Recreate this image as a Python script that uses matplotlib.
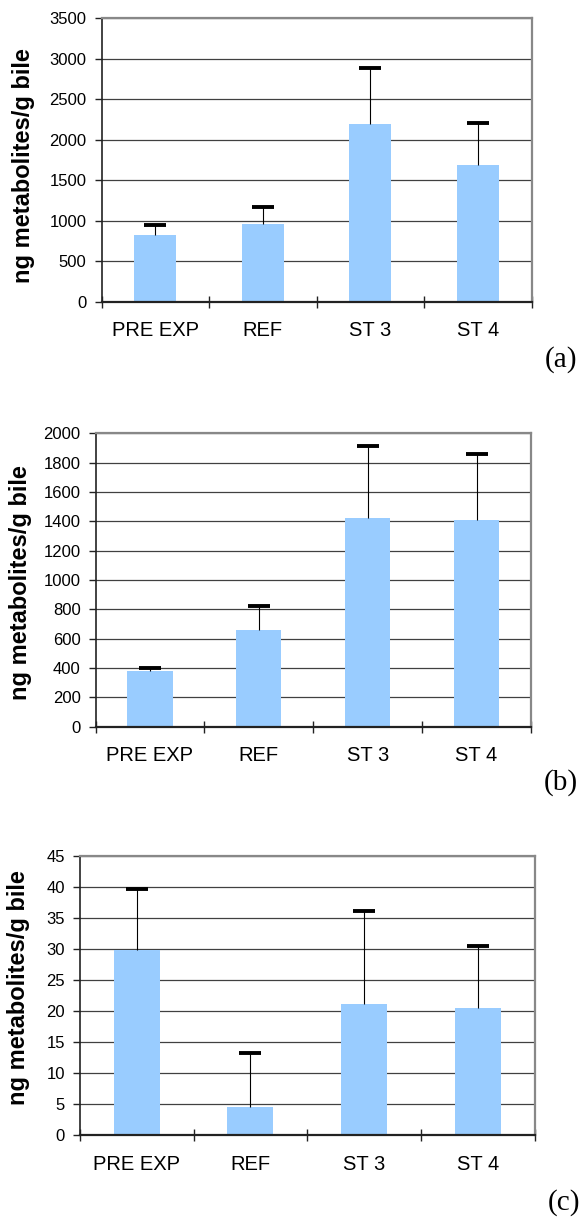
import matplotlib
matplotlib.use("Agg")
import matplotlib.pyplot as plt
import numpy as np

# groups shown on every panel
groups = ["PRE EXP", "REF", "ST 3", "ST 4"]

# panel (a)
means_a = [824, 959, 2195, 1688]
upper_a = [943, 1174, 2886, 2211]
ticks_a = np.arange(0, 3501, 500)

# panel (b)
means_b = [382, 659, 1423, 1409]
upper_b = [398, 820, 1911, 1857]
ticks_b = np.arange(0, 2001, 200)

# panel (c)
means_c = [29.8, 4.56, 21.1, 20.5]
upper_c = [39.7, 13.3, 36.15, 30.4]
ticks_c = np.arange(0, 46, 5)

ylabel = "ng metabolites/g bile"
panel_names = ["(a)", "(b)", "(c)"]

W, H = 582, 1221
plt.rcParams["font.family"] = ["Liberation Sans", "DejaVu Sans"]
fig = plt.figure(figsize=(W / 100, H / 100), dpi=100)

# axes boxes in pixels: left, top, right, bottom
boxes = [(101.5, 18.3, 531.5, 301.7),
         (95.5, 433.3, 531.0, 726.7),
         (80.0, 855.7, 534.5, 1135.3)]
bar_widths = [0.39, 0.415, 0.405]
ylabel_pos = [(24, 166), (21, 583), (19, 988)]
letter_pos = [(561, 360), (561, 783), (564, 1203)]

panels = [(means_a, upper_a, ticks_a),
          (means_b, upper_b, ticks_b),
          (means_c, upper_c, ticks_c)]

x = np.arange(len(groups))
for i, (means, upper, ticks) in enumerate(panels):
    l, t, r, b = boxes[i]
    ax = fig.add_axes([l / W, 1 - b / H, (r - l) / W, (b - t) / H])
    err = np.array(upper) - np.array(means)
    ax.bar(x, means, width=bar_widths[i], color="#99CCFF", zorder=2)
    eb = ax.errorbar(x, means, yerr=[np.zeros(len(means)), err], fmt="none",
                     ecolor="black", elinewidth=0.8, capsize=8, capthick=2.8,
                     zorder=3)
    # only the upper cap is drawn in the original
    eb[1][0].set_visible(False)
    ax.set_xlim(-0.5, len(groups) - 0.5)
    ax.set_ylim(ticks[0], ticks[-1])
    ax.set_yticks(ticks)
    ax.set_yticklabels([str(v) for v in ticks], fontsize=12)
    ax.set_xticks(x)
    ax.set_xticklabels(groups, fontsize=14.5)
    ax.set_xticks(np.arange(-0.5, len(groups)), minor=True)
    ax.tick_params(axis="x", which="major", length=0, pad=14)
    ax.tick_params(axis="x", which="minor", direction="inout", length=8.5,
                   width=1.0, color="#222222")
    ax.tick_params(axis="y", direction="out", length=4.8, width=1.0,
                   pad=6, color="#222222")
    ax.yaxis.grid(True, color="#404040", linewidth=0.9)
    ax.set_axisbelow(True)
    for side in ["top", "right"]:
        ax.spines[side].set_color("#888888")
        ax.spines[side].set_linewidth(1.6)
    ax.spines["left"].set_color("#222222")
    ax.spines["left"].set_linewidth(1.2)
    ax.spines["bottom"].set_color("#222222")
    ax.spines["bottom"].set_linewidth(1.6)

    px, py = ylabel_pos[i]
    fig.text(px / W, 1 - py / H, ylabel, rotation=90, ha="center",
             va="center", fontsize=17, fontweight="bold")
    lx, ly = letter_pos[i]
    fig.text(lx / W, 1 - ly / H, panel_names[i], ha="center", va="center",
             fontsize=21, family=["Liberation Serif", "DejaVu Serif"])

fig.savefig("out.png", dpi=100)
